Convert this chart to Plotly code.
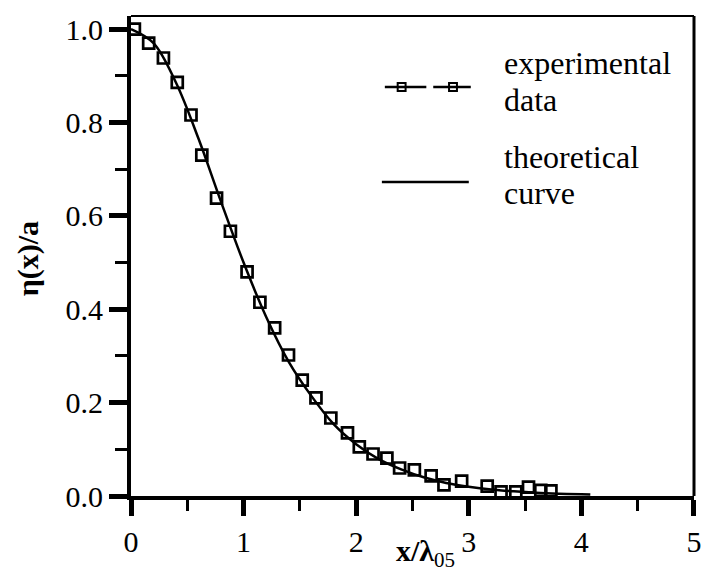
import plotly.graph_objects as go

exp_x = [0.03, 0.157, 0.288, 0.411, 0.533, 0.629, 0.760, 0.883, 1.031, 1.145,
         1.276, 1.399, 1.521, 1.643, 1.775, 1.923, 2.028, 2.150, 2.273, 2.386,
         2.517, 2.666, 2.780, 2.937, 3.164, 3.287, 3.418, 3.531, 3.64, 3.73]
exp_y = [1.0, 0.970, 0.938, 0.886, 0.816, 0.730, 0.638, 0.567, 0.480, 0.415,
         0.360, 0.302, 0.248, 0.210, 0.167, 0.135, 0.105, 0.090, 0.081, 0.060,
         0.056, 0.043, 0.024, 0.032, 0.021, 0.009, 0.009, 0.019, 0.012, 0.011]

# theoretical curve
th_x = [0.0, 0.2, 0.4, 0.6, 0.8, 1.0, 1.2, 1.4, 1.6, 1.8, 2.0, 2.2, 2.4, 2.6,
        2.8, 3.0, 3.2, 3.4, 3.6, 3.8, 4.0, 4.08]
th_y = [1.0, 0.970, 0.885, 0.765, 0.630, 0.500, 0.384, 0.288, 0.215, 0.154,
        0.111, 0.079, 0.057, 0.040, 0.028, 0.020, 0.014, 0.010, 0.007, 0.005,
        0.0035, 0.003]

x_ticks = [0, 1, 2, 3, 4, 5]
y_ticks = [0.0, 0.2, 0.4, 0.6, 0.8, 1.0]

FONT = "'Liberation Serif', 'Times New Roman', 'DejaVu Serif', serif"

fig = go.Figure()
fig.add_trace(go.Scatter(x=th_x, y=th_y, mode="lines",
                         line=dict(color="black", width=2.5, shape="spline"),
                         showlegend=False))
fig.add_trace(go.Scatter(x=exp_x, y=exp_y, mode="markers",
                         marker=dict(symbol="square-open", size=11, color="black",
                                     line=dict(width=2.7, color="black")),
                         showlegend=False))

W, H = 707, 576
L, R, T, B = 131, 6, 16, 80
pw, ph = W - L - R, H - T - B

def px(x):
    return (x - L) / pw

def py(y):
    return (H - B - y) / ph

shapes = []
# frame top and right
shapes.append(dict(type="line", xref="paper", yref="paper", x0=0, x1=1, y0=1, y1=1,
                   line=dict(color="black", width=2)))
shapes.append(dict(type="line", xref="paper", yref="paper", x0=1, x1=1, y0=0, y1=1,
                   line=dict(color="black", width=3)))
# legend glyphs
shapes.append(dict(type="line", xref="paper", yref="paper", x0=px(388), x1=px(430),
                   y0=py(87), y1=py(87), line=dict(color="black", width=2.5)))
shapes.append(dict(type="line", xref="paper", yref="paper", x0=px(437), x1=px(475),
                   y0=py(87), y1=py(87), line=dict(color="black", width=2.5)))
for cx in (405, 457):
    shapes.append(dict(type="rect", xref="paper", yref="paper",
                       x0=px(cx - 4), x1=px(cx + 4), y0=py(91), y1=py(83),
                       line=dict(color="black", width=2), fillcolor="rgba(0,0,0,0)"))
shapes.append(dict(type="line", xref="paper", yref="paper", x0=px(385), x1=px(473),
                   y0=py(182), y1=py(182), line=dict(color="black", width=2.5)))

ann = []
for txt, yc in (("experimental", 63), ("data", 100), ("theoretical", 157), ("curve", 193)):
    ann.append(dict(text=txt, xref="paper", yref="paper", x=px(507), y=py(yc),
                    xanchor="left", yanchor="middle", showarrow=False,
                    font=dict(family=FONT, size=32, color="black")))
ann.append(dict(text="<b>η(x)/a</b>", xref="paper", yref="paper", x=px(27), y=py(259),
                xanchor="center", yanchor="middle", textangle=-90, showarrow=False,
                font=dict(family=FONT, size=30, color="black")))
ann.append(dict(text="<b>x/λ</b><sub>05</sub>", xref="paper", yref="paper", x=px(397),
                y=py(553), xanchor="left", yanchor="middle", showarrow=False,
                font=dict(family=FONT, size=30, color="black")))

fig.update_layout(
    width=W, height=H,
    margin=dict(l=L, r=R, t=T, b=B),
    paper_bgcolor="white", plot_bgcolor="white",
    font=dict(family=FONT, size=30, color="black"),
    shapes=shapes, annotations=ann,
    xaxis=dict(range=[0, 5.001], tickvals=x_ticks, ticktext=[str(v) for v in x_ticks],
               showgrid=False, zeroline=False, showline=True, linewidth=4,
               linecolor="black", ticks="outside", ticklen=16, tickwidth=5,
               tickcolor="black", ticklabeloverflow="allow",
               minor=dict(dtick=0.5, ticks="outside", ticklen=11, tickwidth=3,
                          tickcolor="black", showgrid=False),
               tickfont=dict(family=FONT, size=30)),
    yaxis=dict(range=[0, 1.028], tickvals=y_ticks,
               ticktext=["%.1f" % v for v in y_ticks],
               showgrid=False, zeroline=False, showline=True, linewidth=4,
               linecolor="black", ticks="outside", ticklen=18, tickwidth=5,
               tickcolor="black",
               minor=dict(dtick=0.1, ticks="outside", ticklen=12, tickwidth=3,
                          tickcolor="black", showgrid=False),
               tickfont=dict(family=FONT, size=30)),
)

fig.write_html("out.html")
